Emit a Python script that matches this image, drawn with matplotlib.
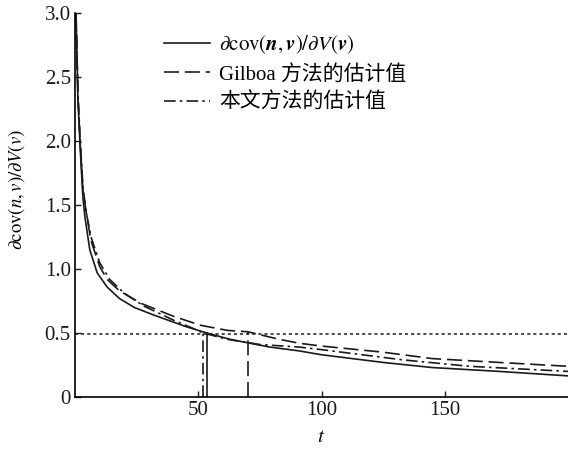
import numpy as np
import matplotlib
matplotlib.use("Agg")
import matplotlib.pyplot as plt

plt.rcParams['font.family'] = ['Liberation Serif', 'Noto Sans CJK SC', 'DejaVu Sans']
plt.rcParams['mathtext.fontset'] = 'stix'

# true derivative curve
t_true = [0.4, 1.2, 2, 3.2, 4, 6, 9, 13, 18, 24, 32, 45, 53.5, 63, 79, 91, 100, 125, 145, 172, 200]
v_true = [3.0, 2.32, 1.98, 1.56, 1.41, 1.15, 0.97, 0.86, 0.77, 0.70, 0.64, 0.55, 0.50, 0.45,
          0.39, 0.36, 0.33, 0.27, 0.23, 0.20, 0.165]

# Gilboa estimate
t_gil = [0.4, 1.2, 2, 3.2, 4.5, 6.5, 10, 13, 18, 27, 40, 51, 62, 70, 83, 91, 99, 125, 145, 172, 200]
v_gil = [3.0, 2.35, 2.02, 1.62, 1.45, 1.22, 1.02, 0.92, 0.83, 0.73, 0.63, 0.56, 0.52, 0.51,
         0.45, 0.42, 0.40, 0.35, 0.30, 0.27, 0.24]

# proposed estimate
t_ours = [0.4, 1.2, 2, 3.2, 4.5, 6.5, 10, 14, 20, 28, 40, 48, 52, 62, 75, 91, 100, 133, 160, 200]
v_ours = [3.0, 2.38, 2.05, 1.65, 1.45, 1.25, 1.05, 0.92, 0.81, 0.71, 0.60, 0.535, 0.50, 0.45,
          0.41, 0.39, 0.37, 0.29, 0.24, 0.20]

threshold = 0.49
cross_t = [53.5, 70, 52]     # true, Gilboa, ours
cross_v = [0.50, 0.51, 0.50]

labels = [r'$\partial\mathrm{cov}(\mathbfit{n},\mathbfit{v})/\partial V(\mathbfit{v})$',
          'Gilboa 方法的估计值', '本文方法的估计值']

col = '#1a1a1a'
dash = (0, (9, 3.5))
dashdot = (0, (7, 2.5, 1.5, 2.5))

fig = plt.figure(figsize=(5.68, 4.5), dpi=100)
ax = fig.add_axes([75/568, 1 - 397/450, 493/568, 384/450])

ax.plot(t_true, v_true, color=col, lw=1.2, ls='-', label=labels[0])
ax.plot(t_gil, v_gil, color=col, lw=1.2, ls=dash, label=labels[1])
ax.plot(t_ours, v_ours, color=col, lw=1.2, ls=dashdot, label=labels[2])

ax.axhline(threshold, color=col, lw=1.1, ls=(0, (2, 2)))
ax.plot([cross_t[0]] * 2, [0, cross_v[0]], color=col, lw=1.2, ls='-')
ax.plot([cross_t[1]] * 2, [0, cross_v[1]], color=col, lw=1.2, ls=dash)
ax.plot([cross_t[2]] * 2, [0, cross_v[2]], color=col, lw=1.2, ls=dashdot)

ax.set_xlim(0, 200)
ax.set_ylim(0, 3.0)
ax.spines['top'].set_visible(False)
ax.spines['right'].set_visible(False)
ax.spines['left'].set_linewidth(1.2)
ax.spines['bottom'].set_linewidth(1.2)

ax.set_xticks([50, 100, 150])
ax.set_xticklabels(['50', '100', '150'])
ax.set_yticks([0, 0.5, 1.0, 1.5, 2.0, 2.5, 3.0])
ax.set_yticklabels(['0', '0.5', '1.0', '1.5', '2.0', '2.5', '3.0'])
ax.tick_params(direction='in', length=4, width=1, labelsize=15, pad=3, colors=col)

ax.set_xlabel(r'$t$', fontsize=15)
ax.xaxis.set_label_coords(0.5, -0.082)
ax.set_ylabel(r'$\partial\mathrm{cov}(n,v)/\partial V(v)$', fontsize=13.5)
ax.yaxis.set_label_coords(-0.097, 0.54)

ax.legend(loc='upper left', bbox_to_anchor=(145/568, 1 - 15/450), bbox_transform=fig.transFigure,
          frameon=False, fontsize=15, handlelength=2.2, handletextpad=0.45, labelspacing=0.4)

fig.savefig('out.png', dpi=100)
